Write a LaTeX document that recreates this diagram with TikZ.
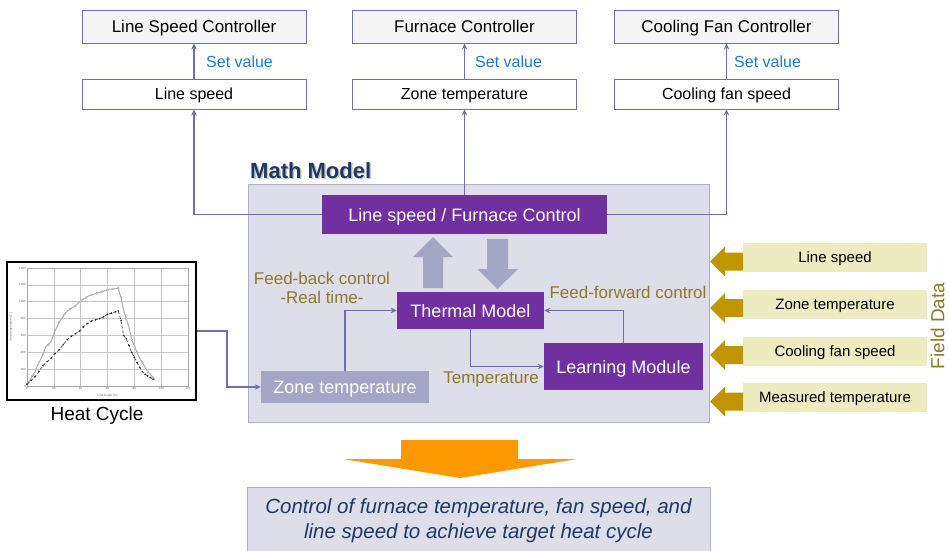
\documentclass[tikz,border=0pt]{standalone}
\usepackage{fontspec}
\setmainfont{Liberation Sans}
\usetikzlibrary{arrows.meta}
\definecolor{linec}{RGB}{112,112,168}
\definecolor{purp}{RGB}{112,48,160}
\definecolor{grayarr}{RGB}{165,165,197}
\definecolor{mathfill}{RGB}{222,222,234}
\definecolor{mathdraw}{RGB}{174,174,201}
\definecolor{goldtxt}{RGB}{140,122,42}
\definecolor{goldarr}{RGB}{191,150,0}
\definecolor{fieldy}{RGB}{236,236,192}
\definecolor{setblue}{RGB}{30,124,200}
\definecolor{navy}{RGB}{31,56,100}
\definecolor{orng}{RGB}{255,153,0}
\tikzset{
  fs/.style={font=\fontsize{#1}{#1}\selectfont},
  ctrlbox/.style={draw=linec, line width=0.9pt, fill=gray!8, minimum width=224pt, minimum height=33pt, inner sep=0pt, fs=17, text height=12.3pt, text depth=0pt},
  valbox/.style={draw=linec, line width=0.9pt, fill=white, minimum width=224pt, minimum height=30pt, inner sep=0pt, fs=16, text height=11.5pt, text depth=0pt},
  pbox/.style={fill=purp, text=white, inner sep=0pt, fs=18, text height=13pt, text depth=0pt},
  conn/.style={draw=linec, line width=1.3pt, -{Stealth[length=6pt,width=5.5pt]}},
  fieldbox/.style={fill=fieldy, minimum width=184pt, minimum height=29pt, inner sep=0pt, fs=15, text height=10.8pt, text depth=0pt},
  goldlbl/.style={text=goldtxt, inner sep=0pt, fs=17, text height=12.3pt, text depth=0pt},
  setlbl/.style={text=setblue, inner sep=0pt, fs=16, anchor=west, text height=11.5pt, text depth=0pt},
}
\begin{document}
\begin{tikzpicture}[x=1pt,y=-1pt]
\useasboundingbox (0,0) rectangle (949,550);
\fill[white] (0,0) rectangle (949,550);

% top controllers
\node[ctrlbox] (lsc) at (194,26.5) {Line Speed Controller};
\node[ctrlbox] (fc)  at (464.5,26.5) {Furnace Controller};
\node[ctrlbox] (cfc) at (726.5,26.5) {Cooling Fan Controller};
\node[valbox] (ls) at (194,94) {Line speed};
\node[valbox] (zt) at (464.5,94) {Zone temperature};
\node[valbox] (cf) at (726.5,94) {Cooling fan speed};
\draw[conn] (ls.north) -- (lsc.south);
\draw[conn] (zt.north) -- (fc.south);
\draw[conn] (cf.north) -- (cfc.south);
\node[setlbl] (sv1) at (206,62) {Set value};
\node[setlbl] (sv2) at (475,62) {Set value};
\node[setlbl] (sv3) at (734,62) {Set value};

% math model
\node[draw=mathdraw, line width=1pt, fill=mathfill, minimum width=461pt, minimum height=238pt, inner sep=0pt] (mm) at (478.5,303) {};
\node[anchor=west, inner sep=0pt, text=black!45, opacity=0.5, font=\fontsize{22}{22}\selectfont\bfseries, text height=16pt, text depth=0pt] at (251.5,171.5) {Math Model};
\node[anchor=west, inner sep=0pt, text=navy, font=\fontsize{22}{22}\selectfont\bfseries, text height=16pt, text depth=0pt] (mmt) at (250,170) {Math Model};

\node[pbox, minimum width=285pt, minimum height=39pt] (lsfc) at (464.5,214.5) {Line speed / Furnace Control};
\node[pbox, minimum width=147pt, minimum height=37pt] (tm) at (470.5,310.5) {Thermal Model};
\node[pbox, minimum width=159pt, minimum height=47pt] (lm) at (623.5,366.5) {Learning Module};
\node[fill=grayarr, text=white, inner sep=0pt, fs=18, text height=13pt, text depth=0pt, minimum width=168pt, minimum height=32pt] (ztg) at (345,387) {Zone temperature};

\draw[conn] (lsfc.west) -| (ls.south);
\draw[conn] (lsfc.north) -- (zt.south);
\draw[conn] (lsfc.east) -| (cf.south);

% big gray arrows
\fill[grayarr] (423,288) -- (423,257) -- (413,257) -- (433,237) -- (453,257) -- (443,257) -- (443,288) -- cycle;
\fill[grayarr] (487,239) -- (508,239) -- (508,269) -- (518,269) -- (497.5,289) -- (477.5,269) -- (487,269) -- cycle;

\draw[conn] (ztg.north) |- (tm.west);
\draw[conn] (tm.south) |- (lm.west);
\draw[conn] (lm.north) |- (tm.east);

\node[goldlbl] (fb1) at (322,278) {Feed-back control};
\node[goldlbl] (fb2) at (322,297) {-Real time-};
\node[goldlbl] (ff) at (628,292) {Feed-forward control};
\node[goldlbl] (tl) at (491,377) {Temperature};

% field data
\foreach \i/\c/\t in {1/257.5/Line speed, 2/304/Zone temperature, 3/351/Cooling fan speed, 4/397.5/Measured temperature}{
  \node[fieldbox] (fd\i) at (835,\c) {\t};
  \fill[goldarr] (743,\c-5) -- (725,\c-5) -- (725,\c-11) -- (710,\c+4) -- (725,\c+19) -- (725,\c+13) -- (743,\c+13) -- cycle;
}
\node[rotate=90, text=goldtxt, inner sep=0pt, fs=19, text height=13.7pt, text depth=0pt, anchor=south] (fdl) at (944.5,326) {Field Data};

% heat cycle chart
\node[draw=black, line width=2pt, fill=white, minimum width=189pt, minimum height=138pt, inner sep=0pt] (hc) at (101.5,331) {};
\begin{scope}[shift={(27,386)}, x=1.34167pt, y=0.0842857pt]
  \foreach \gx in {0,20,...,120} \draw[gray!45, line width=0.5pt] (\gx,0) -- (\gx,1400);
  \foreach \gy in {0,200,...,1400} \draw[gray!45, line width=0.5pt] (0,\gy) -- (120,\gy);
  \draw[gray!70, line width=0.5pt] (0,0) rectangle (120,1400);
  \foreach \gy in {0,200,...,1400} \node[anchor=east, inner sep=1pt, fs=3, text=gray!80!black] at (0,\gy) {\gy};
  \foreach \gx in {0,20,...,120} \node[anchor=north, inner sep=1pt, fs=3, text=gray!80!black] at (\gx,0) {\gx};
  \node[fs=3, text=gray!80!black] at (60,-110) {Line length (m)};
  \node[fs=3, rotate=90, text=gray!80!black] at (-12,700) {Strip temperature (C)};
  \draw[gray!65, line width=1pt] plot coordinates {(0,20) (2,60) (4,120) (6,170) (8,250) (10,310) (12,380) (14,470) (16,490) (18,530) (20,620) (22,690) (24,760) (26,800) (28,850) (30,890) (32,910) (34,930) (36,950) (38,980) (40,1010) (42,1030) (44,1050) (46,1070) (48,1080) (50,1090) (52,1100) (54,1110) (56,1120) (58,1130) (60,1140) (62,1150) (64,1150) (66,1155) (68,1160) (70,1050) (72,900) (74,800) (76,700) (78,550) (80,480) (82,400) (84,330) (86,280) (88,220) (90,170) (92,140) (94,100) (95,85)};
  \foreach \px/\py in {0/20,4/120,8/250,12/380,16/490,20/620,24/760,28/850,32/910,36/950,40/1010,44/1050,48/1080,52/1100,56/1120,60/1140,64/1150,68/1160,70/1050,74/800,78/550,82/400,86/280,90/170,94/100}
    \draw[gray!70, fill=white, line width=0.4pt] (\px,\py) circle[radius=1pt];
  \draw[black!75, line width=0.7pt, densely dashed] plot coordinates {(0,20) (2,50) (4,80) (6,110) (8,150) (10,200) (12,240) (14,280) (16,300) (18,330) (20,370) (22,400) (24,430) (26,470) (28,510) (30,550) (32,580) (34,600) (36,620) (38,640) (40,660) (42,700) (44,730) (46,750) (48,770) (50,780) (52,790) (54,800) (56,810) (58,830) (60,850) (62,860) (64,870) (66,880) (68,890) (70,780) (72,600) (74,560) (76,480) (78,400) (80,340) (82,280) (84,220) (86,170) (88,140) (90,120) (92,100) (94,80) (95,70)};
  \foreach \px/\py in {0/20,3/65,6/110,9/175,12/240,15/290,18/330,21/385,24/430,27/490,30/550,33/590,36/620,39/650,42/700,45/740,48/770,51/785,54/800,57/820,60/850,63/865,66/880,68/890,70/780,72/600,74/560,76/480,78/400,80/340,82/280,84/220,86/170,88/140,90/120,92/100,94/80}
    \fill[black!85] (\px,\py) circle[radius=0.9pt];
\end{scope}
\node[inner sep=0pt, fs=19, text height=13.7pt, text depth=0pt] (hcl) at (97,414) {Heat Cycle};
\coordinate (hcbend) at (227,331);
\draw[conn] (hc.east) -- (hcbend) |- (ztg.west);

% orange arrow and goal box
\fill[orng] (401,440) -- (518,440) -- (518,459) -- (577,459) -- (460,478) -- (343,459) -- (401,459) -- cycle;
\node[draw=mathdraw, line width=1pt, fill=mathfill, minimum width=463pt, minimum height=76pt, inner sep=0pt] (goal) at (478.5,525) {};
\node[text=navy, align=center, inner sep=0pt, font=\fontsize{20.5}{25}\selectfont\itshape] (goalt) at (478.5,521) {Control of furnace temperature, fan speed, and\\line speed to achieve target heat cycle};
\end{tikzpicture}
\end{document}
